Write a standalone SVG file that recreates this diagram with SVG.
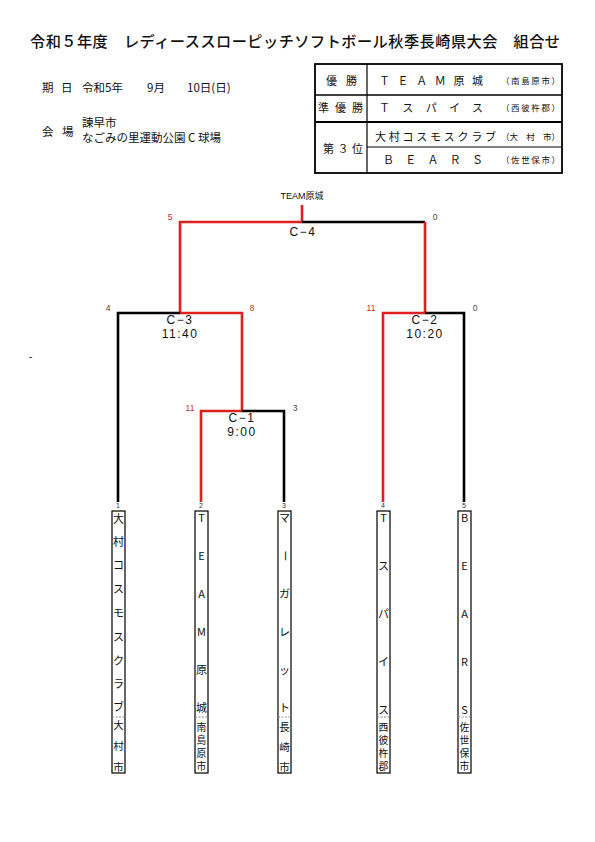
<svg xmlns="http://www.w3.org/2000/svg" width="595" height="842" viewBox="0 0 595 842">
<style>
text{font-family:"Noto Sans CJK JP","Liberation Sans",sans-serif;fill:#111}
.t{font-size:15.2px;font-weight:500}
.i{font-size:11.5px}
.tb{font-size:11px}
.sm{font-size:8.5px}
.bx{font-size:11px;text-anchor:middle}
.bc{font-size:10.5px;text-anchor:middle}
.bd{font-size:9.8px;text-anchor:middle}
.num{font-size:7px;text-anchor:middle;fill:#333;font-family:"Liberation Sans",sans-serif}
.sc{font-size:8.5px;text-anchor:middle;font-family:"Liberation Sans",sans-serif;fill:#444}
.scr{fill:#c83030}
.gm{font-size:12px;text-anchor:middle;font-family:"Liberation Sans","Noto Sans CJK JP",sans-serif;letter-spacing:1.5px}
.r{stroke:#e0201e;stroke-width:2.6;fill:none}
.k{stroke:#000;stroke-width:2.6;fill:none}
.box{fill:#fff;stroke:#000;stroke-width:1.2}
.dv{stroke:#888;stroke-width:1;stroke-dasharray:2 1.5}
.tl{stroke:#000;fill:none}
</style>

<g id="title">
<text class="t" x="30" y="47" textLength="530" lengthAdjust="spacing">令和５年度　レディーススローピッチソフトボール秋季長崎県大会　組合せ</text>
</g>

<g id="info">
<text class="i" x="42" y="92">期</text>
<text class="i" x="61" y="92">日</text>
<text class="i" x="82" y="92">令和5年</text>
<text class="i" x="147" y="92">9月</text>
<text class="i" x="187" y="92">10日(日)</text>
<text class="i" x="42" y="136">会</text>
<text class="i" x="62" y="136">場</text>
<text class="i" x="82" y="127">諫早市</text>
<text class="i" x="82" y="142">なごみの里運動公園 C 球場</text>
</g>

<g id="results">
<rect x="315" y="64" width="247" height="109" fill="none" stroke="#000" stroke-width="1.8"/>
<line class="tl" x1="367" y1="64" x2="367" y2="173" stroke-width="1.2"/>
<line class="tl" x1="315" y1="95" x2="562" y2="95" stroke-width="1.5"/>
<line class="tl" x1="315" y1="122" x2="562" y2="122" stroke-width="1.8"/>
<line class="tl" x1="367" y1="147" x2="562" y2="147" stroke-width="1"/>
<text class="tb" x="326" y="85">優</text>
<text class="tb" x="346" y="85">勝</text>
<text class="tb" x="318" y="112" textLength="45" lengthAdjust="spacing">準優勝</text>
<text class="tb" x="323" y="153" textLength="40" lengthAdjust="spacing">第３位</text>
<text class="tb" x="379" y="85" textLength="104" lengthAdjust="spacing">ＴＥＡＭ原城</text>
<text class="sm" x="501" y="84" textLength="59" lengthAdjust="spacing">（南島原市）</text>
<text class="tb" x="379" y="112" textLength="104" lengthAdjust="spacing">Ｔスパイス</text>
<text class="sm" x="501" y="111" textLength="59" lengthAdjust="spacing">（西彼杵郡）</text>
<text class="tb" x="375" y="141" textLength="121" lengthAdjust="spacing">大村コスモスクラブ</text>
<text class="sm" x="501" y="140" textLength="59" lengthAdjust="spacing">（大　村　市）</text>
<text class="tb" x="383" y="164" textLength="100" lengthAdjust="spacing">ＢＥＡＲＳ</text>
<text class="sm" x="501" y="163" textLength="59" lengthAdjust="spacing">（佐世保市）</text>
</g>

<g id="connectors">
<line class="r" x1="302" y1="205" x2="302" y2="222"/>
<polyline class="r" points="180,313 180,222 302,222"/>
<line class="k" x1="302" y1="222" x2="425" y2="222"/>
<line class="r" x1="425" y1="222" x2="425" y2="313"/>
<polyline class="k" points="118,502 118,313 180,313"/>
<polyline class="r" points="180,313 242,313 242,411"/>
<polyline class="r" points="425,313 383,313 383,502"/>
<polyline class="k" points="425,313 464,313 464,502"/>
<polyline class="r" points="242,411 201,411 201,502"/>
<polyline class="k" points="242,411 284,411 284,502"/>
</g>

<g id="labels">
<text x="302" y="199" style="font-size:9px;text-anchor:middle;font-family:'Liberation Sans','Noto Sans CJK JP',sans-serif">TEAM原城</text>
<text class="gm" x="303" y="236">C−4</text>
<text class="gm" x="180" y="324">C−3</text>
<text class="gm" x="180" y="338">11:40</text>
<text class="gm" x="425" y="324">C−2</text>
<text class="gm" x="425" y="338">10:20</text>
<text class="gm" x="242" y="422">C−1</text>
<text class="gm" x="242" y="436">9:00</text>
<text class="sc scr" x="170" y="220">5</text>
<text class="sc" x="435" y="220">0</text>
<text class="sc" x="108" y="311">4</text>
<text class="sc scr" x="252" y="311">8</text>
<text class="sc scr" x="371" y="311">11</text>
<text class="sc" x="475" y="311">0</text>
<text class="sc scr" x="190" y="411">11</text>
<text class="sc" x="295" y="411">3</text>
<text x="29" y="360" style="font-size:10px;font-family:'Liberation Sans',sans-serif">-</text>
</g>

<g id="team1">
<text class="num" x="118" y="508">1</text>
<rect class="box" x="112" y="511" width="13" height="262"/>
<line class="dv" x1="112" y1="717" x2="125" y2="717"/>
<text class="bx" x="118.5" y="523">大</text>
<text class="bx" x="118.5" y="546">村</text>
<text class="bx" x="118.5" y="569">コ</text>
<text class="bx" x="118.5" y="593">ス</text>
<text class="bx" x="118.5" y="617">モ</text>
<text class="bx" x="118.5" y="641">ス</text>
<text class="bx" x="118.5" y="665">ク</text>
<text class="bx" x="118.5" y="688">ラ</text>
<text class="bx" x="118.5" y="711">ブ</text>
<text class="bc" x="118.5" y="729">大</text>
<text class="bc" x="118.5" y="750">村</text>
<text class="bc" x="118.5" y="771">市</text>
</g>

<g id="team2">
<text class="num" x="201" y="508">2</text>
<rect class="box" x="195" y="511" width="13" height="262"/>
<line class="dv" x1="195" y1="717" x2="208" y2="717"/>
<text class="bx" x="201.5" y="522">T</text>
<text class="bx" x="201.5" y="560">E</text>
<text class="bx" x="201.5" y="598">A</text>
<text class="bx" x="201.5" y="636">M</text>
<text class="bx" x="201.5" y="674">原</text>
<text class="bx" x="201.5" y="712">城</text>
<text class="bd" x="201.5" y="731">南</text>
<text class="bd" x="201.5" y="744">島</text>
<text class="bd" x="201.5" y="757">原</text>
<text class="bd" x="201.5" y="770">市</text>
</g>

<g id="team3">
<text class="num" x="284" y="508">3</text>
<rect class="box" x="278" y="511" width="13" height="262"/>
<line class="dv" x1="278" y1="717" x2="291" y2="717"/>
<text class="bx" x="284.5" y="522">マ</text>
<text class="bx" x="284.5" y="560" transform="rotate(90 284.5 556)">ー</text>
<text class="bx" x="284.5" y="598">ガ</text>
<text class="bx" x="284.5" y="636">レ</text>
<text class="bx" x="284.5" y="674">ッ</text>
<text class="bx" x="284.5" y="712">ト</text>
<text class="bc" x="284.5" y="731">長</text>
<text class="bc" x="284.5" y="751">崎</text>
<text class="bc" x="284.5" y="771">市</text>
</g>

<g id="team4">
<text class="num" x="383" y="508">4</text>
<rect class="box" x="377" y="511" width="13" height="262"/>
<line class="dv" x1="377" y1="717" x2="390" y2="717"/>
<text class="bx" x="383.5" y="522">T</text>
<text class="bx" x="383.5" y="570">ス</text>
<text class="bx" x="383.5" y="618">パ</text>
<text class="bx" x="383.5" y="666">イ</text>
<text class="bx" x="383.5" y="714">ス</text>
<text class="bd" x="383.5" y="731">西</text>
<text class="bd" x="383.5" y="744">彼</text>
<text class="bd" x="383.5" y="757">杵</text>
<text class="bd" x="383.5" y="770">郡</text>
</g>

<g id="team5">
<text class="num" x="464" y="508">5</text>
<rect class="box" x="458" y="511" width="13" height="262"/>
<line class="dv" x1="458" y1="717" x2="471" y2="717"/>
<text class="bx" x="464.5" y="522">B</text>
<text class="bx" x="464.5" y="570">E</text>
<text class="bx" x="464.5" y="618">A</text>
<text class="bx" x="464.5" y="666">R</text>
<text class="bx" x="464.5" y="714">S</text>
<text class="bd" x="464.5" y="731">佐</text>
<text class="bd" x="464.5" y="744">世</text>
<text class="bd" x="464.5" y="757">保</text>
<text class="bd" x="464.5" y="770">市</text>
</g>
</svg>
